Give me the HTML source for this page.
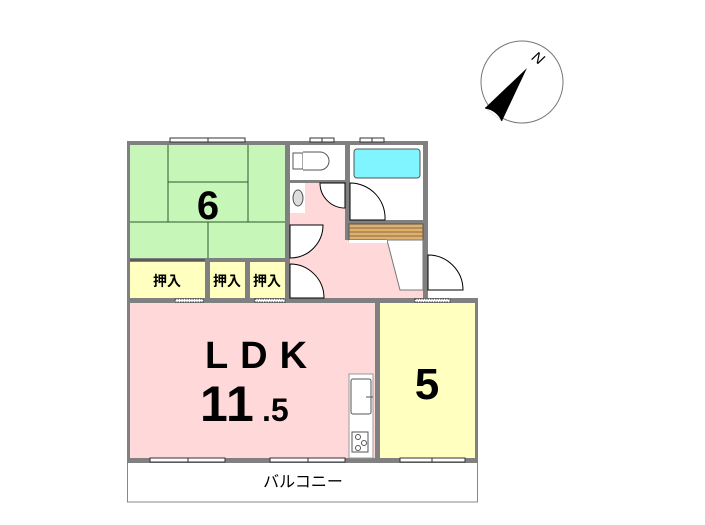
<!DOCTYPE html>
<html><head><meta charset="utf-8"><style>
html,body{margin:0;padding:0;background:#fff;width:705px;height:525px;overflow:hidden}
text{font-family:"Liberation Sans","Noto Sans CJK JP",sans-serif}
</style></head><body>
<svg width="705" height="525" viewBox="0 0 705 525" xmlns="http://www.w3.org/2000/svg">
<!-- compass -->
<circle cx="522" cy="82" r="41" fill="#fff" stroke="#777" stroke-width="1"/>
<polygon points="527,68 485,108 502,121" fill="#000"/>
<path d="M485,108 Q497,110 502,121" fill="#fff" stroke="#000" stroke-width="1"/>
<text x="538" y="63" font-family="Liberation Serif,serif" font-style="italic" font-size="15" transform="rotate(35 538 58)" text-anchor="middle">N</text>

<!-- balcony -->
<rect x="127.5" y="460" width="350" height="42" fill="#fff" stroke="#888" stroke-width="1"/>
<text x="303" y="487" font-size="16" text-anchor="middle">バルコニー</text>

<!-- wall base -->
<rect x="127" y="141" width="301" height="162" fill="#808080"/>
<rect x="127" y="298" width="351" height="165" fill="#808080"/>

<!-- green room -->
<rect x="130" y="145" width="155" height="113" fill="#c6f7b8"/>
<g stroke="#2d5a2d" stroke-width="1" fill="none">
<line x1="168" y1="145" x2="168" y2="222"/><line x1="248" y1="145" x2="248" y2="222"/>
<line x1="168" y1="182" x2="248" y2="182"/><line x1="130" y1="222" x2="285" y2="222"/>
<line x1="208" y1="222" x2="208" y2="258"/>
</g>
<text x="208" y="219" font-size="40" font-weight="bold" text-anchor="middle">6</text>

<!-- closets -->
<rect x="130" y="262" width="75" height="36" fill="#ffffc0"/>
<rect x="210" y="262" width="35" height="36" fill="#ffffc0"/>
<rect x="250" y="262" width="35" height="36" fill="#ffffc0"/>
<line x1="130" y1="260" x2="205" y2="260" stroke="#333" stroke-width="1"/>
<text x="167" y="286" font-size="14" font-weight="bold" text-anchor="middle">押入</text>
<text x="227" y="286" font-size="14" font-weight="bold" text-anchor="middle">押入</text>
<text x="267" y="286" font-size="14" font-weight="bold" text-anchor="middle">押入</text>

<!-- toilet -->
<rect x="290" y="145" width="55" height="35" fill="#fff"/>
<path d="M293,153 h10 v16 h-10 z" fill="#fff" stroke="#555"/>
<path d="M303,152 h17 a8,8 0 0 1 0,18 h-17" fill="#fff" stroke="#555"/>
<!-- bath -->
<rect x="350" y="145" width="73" height="75" fill="#fff"/>
<rect x="354" y="149" width="66" height="29" rx="3" fill="#80f4ff" stroke="#555"/>
<!-- hall pink -->
<polygon points="290,183 345,183 345,240 387,240 400,290 423,290 423,298 290,298" fill="#ffd9d9"/>
<rect x="290" y="183" width="15" height="30" fill="#fff"/>
<ellipse cx="298" cy="198" rx="5" ry="8" fill="#ddd" stroke="#555"/>
<!-- doors -->
<g fill="#fff" stroke="#000" stroke-width="1">
<path d="M290,225 L290,258 A33,33 0 0 0 323,225 Z"/>
<path d="M290,298 L290,264 A34,34 0 0 1 324,298 Z"/>
<path d="M345,183 L320,183 A25,25 0 0 0 345,208 Z"/>
<path d="M350,183 L350,220 L385,220 A35,35 0 0 0 350,183 Z"/>
<path d="M428,255 L428,290 L463,290 A35,35 0 0 0 428,255 Z"/>
</g>
<!-- shelf & wash -->
<rect x="349" y="224" width="74" height="16" fill="#e0b070" stroke="#555"/>
<g stroke="#8a6a3a" stroke-width="1"><line x1="349" y1="228" x2="423" y2="228"/><line x1="349" y1="232" x2="423" y2="232"/><line x1="349" y1="236" x2="423" y2="236"/></g>
<polygon points="387,240 423,240 423,290 400,290" fill="#fff" stroke="#777"/>
<rect x="349" y="240" width="38" height="3" fill="#fff"/>

<!-- LDK -->
<rect x="130" y="303" width="245" height="155" fill="#ffd9d9"/>
<text x="262" y="368" font-size="38" font-weight="bold" text-anchor="middle" letter-spacing="12">LDK</text>
<text x="200" y="421" font-size="50" font-weight="bold" letter-spacing="1">11</text>
<text x="262" y="421" font-size="32" font-weight="bold">.5</text>
<!-- kitchen -->
<rect x="349" y="374" width="24" height="84" fill="#fff" stroke="#999"/>
<rect x="351" y="379" width="20" height="35" rx="2" fill="#fff" stroke="#555"/>
<line x1="366" y1="397" x2="373" y2="397" stroke="#555"/>
<rect x="352" y="432" width="16" height="20" fill="#fff" stroke="#555"/>
<circle cx="358" cy="437" r="2.5" fill="none" stroke="#555"/><circle cx="364" cy="443" r="2.5" fill="none" stroke="#555"/><circle cx="358" cy="448" r="2.5" fill="none" stroke="#555"/>

<!-- room 5 -->
<rect x="380" y="303" width="95" height="155" fill="#ffffc0"/>
<text x="427" y="399" font-size="44" font-weight="bold" text-anchor="middle">5</text>

<!-- windows -->
<g fill="#fff" stroke="#333" stroke-width="1">
<rect x="170" y="138" width="75" height="4"/><rect x="310" y="138" width="24" height="4"/><rect x="360" y="138" width="24" height="4"/>
<rect x="150" y="458" width="75" height="4"/><rect x="270" y="458" width="75" height="4"/><rect x="400" y="458" width="65" height="4"/>
</g>
<g stroke="#333"><line x1="208" y1="138" x2="208" y2="142"/><line x1="322" y1="138" x2="322" y2="142"/><line x1="372" y1="138" x2="372" y2="142"/>
<line x1="188" y1="458" x2="188" y2="462"/><line x1="308" y1="458" x2="308" y2="462"/><line x1="432" y1="458" x2="432" y2="462"/></g>
<g fill="#fff" stroke="#333" stroke-dasharray="1.5,1">
<rect x="175" y="299" width="28" height="3"/><rect x="255" y="299" width="30" height="3"/><rect x="415" y="299" width="35" height="3"/>
</g>
</svg>
</body></html>
